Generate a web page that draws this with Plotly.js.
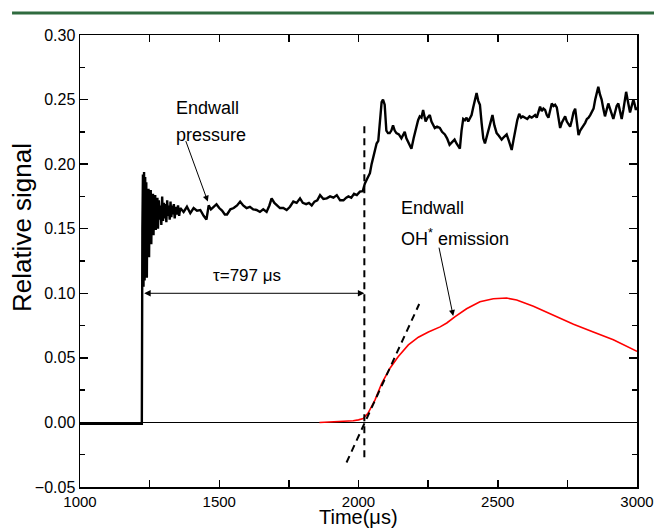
<!DOCTYPE html>
<html>
<head>
<meta charset="utf-8">
<script src="https://cdn.plot.ly/plotly-3.0.1.min.js"></script>
<style>html,body{margin:0;padding:0;background:#fff;}#chart{width:654px;height:530px;}</style>
</head>
<body>
<div id="chart"></div>
<script>
// Endwall pressure trace (relative signal vs time in microseconds)
const pressureTime = [1000,1050,1100,1150,1200,1222,
1224,1226,1228,1230,1232,1234,1236,1238,1240,1242,1244,1246,1248,1250,1252,1254,1256,1258,1260,1262,1264,1266,1268,1270,1272,1274,1276,1278,1280,1283,1286,1289,1292,1295,1298,1301,1304,1307,1310,1313,1316,1319,1322,1325,1328,1331,1334,1337,1340,1344,1348,1352,1356,
1360,1372,1384,1396,1408,1420,1432,1444,1454,1462,1470,1480,1490,1500,1510,1520,1528,1540,1552,1564,1575,1586,1598,1610,1622,1634,1646,1658,1670,1680,1688,1698,1708,1718,1730,1742,1754,1766,1778,1790,1800,1812,1822,1832,1842,1852,1862,1874,1886,1898,1910,1922,1934,1946,1956,1964,1974,1984,1994,2005,2015,2023,2032,2041,2047,2053,2059,2065,2071,2078,2083,2088,2094,2100,2106,2112,2118,2124,2130,2136,2145,2154,2160,2166,2172,2180,2190,2198,2208,2214,2220,2226,2232,2237,2241,2248,2256,2262,2268,2274,2282,2292,2300,2310,2318,2327,2336,2345,2352,2358,2364,2370,2376,2382,2388,2394,2400,2406,2412,2418,2424,2430,2436,2442,2448,2454,2460,2466,2474,2481,2488,2496,2504,2514,2522,2532,2540,2546,2550,2556,2562,2570,2577,2584,2590,2598,2606,2614,2622,2628,2634,2640,2646,2652,2658,2664,2670,2676,2682,2688,2694,2700,2706,2712,2718,2724,2730,2736,2742,2748,2754,2760,2766,2772,2778,2784,2790,2796,2802,2808,2814,2820,2826,2832,2838,2844,2850,2856,2861,2867,2873,2879,2885,2891,2897,2903,2909,2915,2921,2927,2933,2939,2945,2951,2956,2961,2966,2970,2975,2981,2987,2992,2996,3000];
const pressureSignal = [-0.001,-0.001,-0.001,-0.001,-0.001,-0.001,
0.150,0.192,0.105,0.194,0.110,0.190,0.125,0.186,0.112,0.178,0.135,0.181,0.128,0.176,0.142,0.180,0.138,0.172,0.150,0.177,0.145,0.171,0.152,0.176,0.149,0.170,0.155,0.174,0.150,0.172,0.157,0.168,0.153,0.175,0.156,0.170,0.158,0.169,0.155,0.172,0.160,0.168,0.157,0.171,0.159,0.168,0.161,0.169,0.158,0.167,0.161,0.168,0.160,
0.166,0.163,0.167,0.162,0.166,0.164,0.1645,0.160,0.157,0.168,0.165,0.167,0.169,0.166,0.164,0.161,0.161,0.165,0.166,0.168,0.171,0.168,0.166,0.167,0.165,0.1645,0.163,0.165,0.163,0.168,0.1735,0.170,0.168,0.166,0.166,0.1645,0.167,0.171,0.170,0.1735,0.170,0.169,0.170,0.168,0.171,0.172,0.176,0.173,0.1735,0.175,0.174,0.176,0.172,0.172,0.174,0.175,0.174,0.177,0.176,0.1787,0.179,0.185,0.189,0.193,0.200,0.206,0.212,0.216,0.218,0.235,0.248,0.250,0.246,0.226,0.224,0.224,0.226,0.230,0.226,0.224,0.223,0.220,0.222,0.225,0.220,0.216,0.212,0.220,0.229,0.234,0.237,0.236,0.242,0.236,0.233,0.236,0.238,0.233,0.231,0.228,0.229,0.228,0.225,0.223,0.220,0.215,0.217,0.219,0.216,0.214,0.212,0.226,0.235,0.234,0.236,0.233,0.236,0.238,0.244,0.250,0.255,0.249,0.246,0.232,0.220,0.216,0.221,0.226,0.232,0.238,0.230,0.224,0.222,0.219,0.221,0.223,0.218,0.213,0.211,0.218,0.226,0.234,0.239,0.236,0.237,0.236,0.235,0.237,0.236,0.237,0.238,0.236,0.240,0.2445,0.241,0.243,0.242,0.238,0.236,0.241,0.247,0.245,0.246,0.244,0.236,0.228,0.232,0.235,0.237,0.233,0.231,0.229,0.234,0.240,0.243,0.232,0.2225,0.226,0.228,0.229,0.232,0.235,0.236,0.238,0.241,0.243,0.250,0.257,0.260,0.254,0.250,0.243,0.237,0.242,0.247,0.243,0.238,0.235,0.240,0.245,0.247,0.241,0.235,0.242,0.250,0.256,0.250,0.244,0.240,0.245,0.250,0.246,0.242,0.244];

// Endwall OH* emission trace
const ohTime = [1860,1900,1940,1981,2000,2017,2034,2059,2083,2113,2143,2179,2215,2251,2293,2317,2347,2388,2436,2484,2532,2568,2628,2700,2772,2843,2915,3000];
const ohSignal = [0,0.0003,0.0007,0.0013,0.002,0.003,0.007,0.0173,0.030,0.042,0.051,0.060,0.066,0.070,0.074,0.077,0.082,0.088,0.0935,0.0958,0.0963,0.0948,0.090,0.083,0.076,0.070,0.064,0.055];

// Tangent line to OH* rise, and ignition marker
const tangentTime = [1957,2218];
const tangentSignal = [-0.031,0.0917];
const ignitionTime = [2021,2021];
const ignitionSignal = [-0.027,0.23];

// Ignition delay arrow
const tauStart = 1225, tauEnd = 2021, tauLevel = 0.100;
const tauLabel = 'τ=797 μs';

const xTicks = [1000,1250,1500,1750,2000,2250,2500,2750,3000];
const xTickLabels = ['1000','','1500','','2000','','2500','','3000'];
const yTicks = [-0.05,0,0.05,0.10,0.15,0.20,0.25,0.30];

const F = 'Liberation Sans, Arial, sans-serif';

const traces = [
  {x: ohTime, y: ohSignal, mode:'lines', line:{color:'#ff0000', width:1.6}, hoverinfo:'skip'},
  {x: pressureTime, y: pressureSignal, mode:'lines', line:{color:'#000000', width:2.4}, hoverinfo:'skip'},
  {x: tangentTime, y: tangentSignal, mode:'lines', line:{color:'#000000', width:2, dash:'7px,5px'}, hoverinfo:'skip'},
  {x: ignitionTime, y: ignitionSignal, mode:'lines', line:{color:'#000000', width:2, dash:'7px,5px'}, hoverinfo:'skip'}
];

const layout = {
  width:654, height:530,
  margin:{l:80, r:17, t:35, b:43},
  paper_bgcolor:'#fff', plot_bgcolor:'#fff',
  showlegend:false,
  font:{family:F, color:'#000'},
  xaxis: {
    showgrid:false, showline:true, linecolor:'#000', linewidth:1.5, mirror:'allticks',
    ticks:'inside', ticklen:7, tickwidth:1.5, tickcolor:'#000',
    tickfont:{family:F, size:15, color:'#000'},
    range:[1000,3000], tickmode:'array', tickvals:xTicks, ticktext:xTickLabels,
    zeroline:false
  },
  yaxis: {
    showgrid:false, showline:true, linecolor:'#000', linewidth:1.5, mirror:'allticks',
    ticks:'inside', ticklen:8, tickwidth:1.5, tickcolor:'#000',
    tickfont:{family:F, size:16, color:'#000'},
    range:[-0.05,0.30], tickmode:'array', tickvals:yTicks, tickformat:'.2f',
    minor:{ticks:'inside', ticklen:5, dtick:0.025, tick0:0, tickcolor:'#000', tickwidth:1.5},
    zeroline:true, zerolinecolor:'#000', zerolinewidth:1.5
  },
  shapes:[
    {type:'line', xref:'paper', yref:'paper', x0:-0.122, x1:1.04, y0:1.0487, y1:1.0487,
     line:{color:'#2f6b3f', width:3}}
  ],
  annotations:[
    {x:-0.104, y:0.573, xref:'paper', yref:'paper', xanchor:'center', yanchor:'middle',
     text:'Relative signal', textangle:-90,
     showarrow:false, font:{family:F, size:26, color:'#000'}},
    {x:0.5, y:-0.0951, xref:'paper', yref:'paper', xanchor:'center', yanchor:'bottom',
     text:'Time(μs)', showarrow:false, font:{family:F, size:20, color:'#000'}},
    {x:tauEnd, y:tauLevel, ax:tauStart, ay:tauLevel, xref:'x', yref:'y', axref:'x', ayref:'y',
     showarrow:true, arrowhead:2, startarrowhead:2, arrowside:'end+start', arrowsize:1.3, arrowwidth:1, arrowcolor:'#000', text:''},
    {x:1600, y:0.114, xref:'x', yref:'y', text:tauLabel, showarrow:false, font:{family:F, size:17, color:'#000'}},
    {x:1338, y:0.2435, xref:'x', yref:'y', xanchor:'left', yanchor:'middle',
     text:'Endwall', showarrow:false, font:{family:F, size:18, color:'#000'}},
    {x:1338, y:0.2225, xref:'x', yref:'y', xanchor:'left', yanchor:'middle',
     text:'pressure', showarrow:false, font:{family:F, size:18, color:'#000'}},
    {x:1459, y:0.171, ax:1378, ay:0.219, xref:'x', yref:'y', axref:'x', ayref:'y',
     showarrow:true, arrowhead:2, arrowsize:1.2, arrowwidth:1, arrowcolor:'#000', text:''},
    {x:2147, y:0.166, xref:'x', yref:'y', xanchor:'left', yanchor:'middle',
     text:'Endwall', showarrow:false, font:{family:F, size:18, color:'#000'}},
    {x:2147, y:0.143, xref:'x', yref:'y', xanchor:'left', yanchor:'middle',
     text:'OH<sup>*</sup> emission', showarrow:false, font:{family:F, size:18, color:'#000'}},
    {x:2340, y:0.0825, ax:2288, ay:0.1365, xref:'x', yref:'y', axref:'x', ayref:'y',
     showarrow:true, arrowhead:2, arrowsize:1.2, arrowwidth:1, arrowcolor:'#000', text:''}
  ]
};

Plotly.newPlot('chart', traces, layout, {displayModeBar:false, staticPlot:true});
</script>
</body>
</html>
